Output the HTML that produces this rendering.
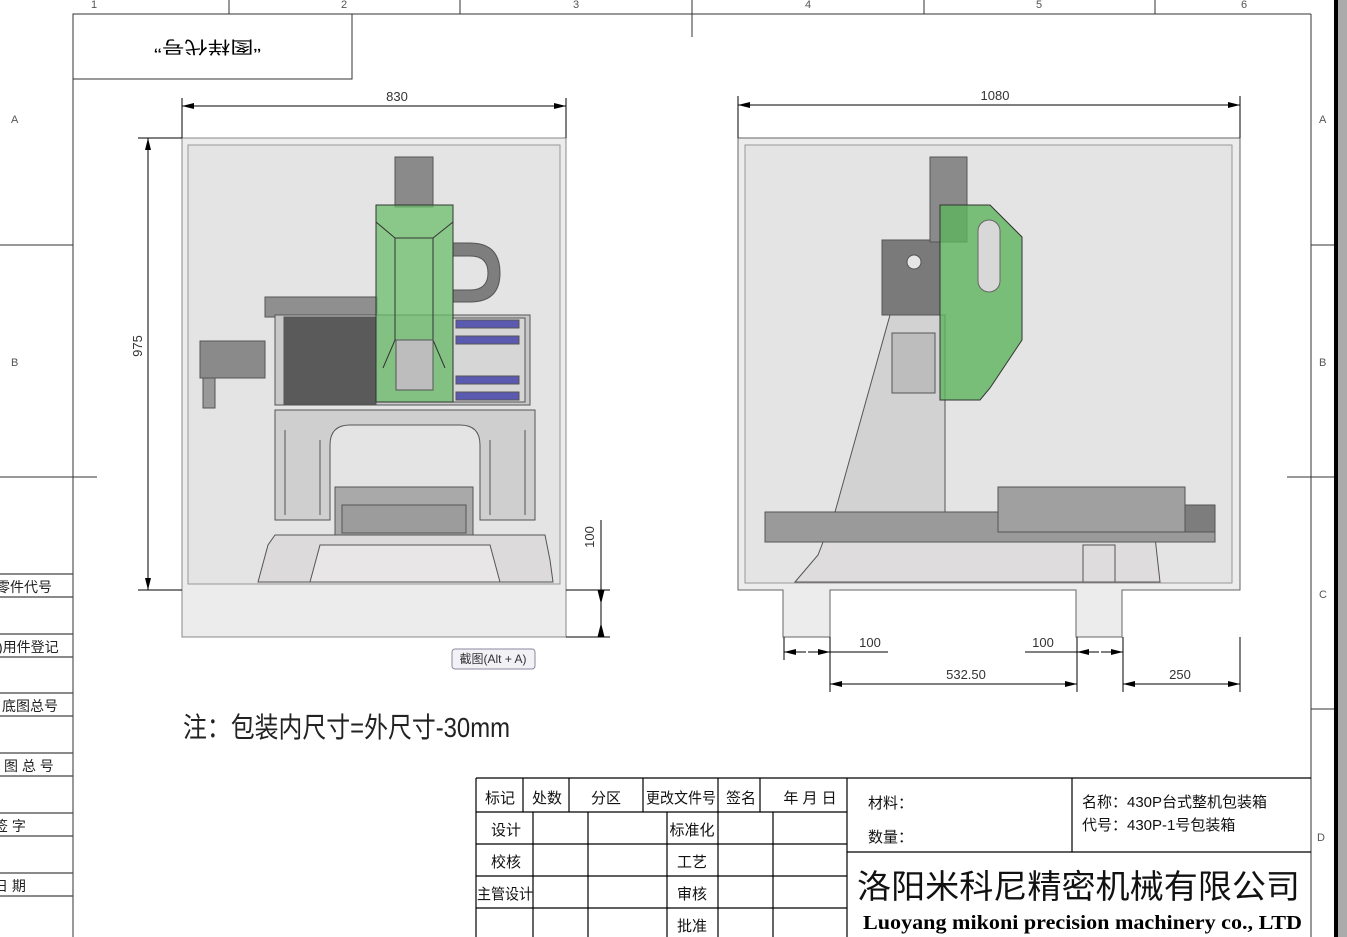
<!DOCTYPE html>
<html><head><meta charset="utf-8"><style>
html,body{margin:0;padding:0;background:#fff}
body{width:1347px;height:937px;overflow:hidden;position:relative;font-family:"Liberation Sans","Noto Sans CJK SC",sans-serif}
svg{position:absolute;left:0;top:0}
text{font-family:"Liberation Sans","Noto Sans CJK SC",sans-serif}
</style></head><body>
<svg width="1347" height="937" viewBox="0 0 1347 937" xmlns="http://www.w3.org/2000/svg">
<defs>
<marker id="ar" markerWidth="12" markerHeight="6" refX="12" refY="3" orient="auto" markerUnits="userSpaceOnUse"><path d="M0,0 L12,3 L0,6z" fill="#000"/></marker>
<marker id="al" markerWidth="12" markerHeight="6" refX="0" refY="3" orient="auto" markerUnits="userSpaceOnUse"><path d="M12,0 L0,3 L12,6z" fill="#000"/></marker>
</defs>
<rect x="1334" y="0" width="4" height="937" fill="#000"/>
<rect x="1338" y="0" width="9" height="937" fill="#ababab"/>
<g stroke="#333" stroke-width="1" fill="none">
<line x1="73" y1="14" x2="1311" y2="14"/>
<line x1="73" y1="14" x2="73" y2="937"/>
<line x1="1311" y1="14" x2="1311" y2="937"/>
<line x1="229" y1="0" x2="229" y2="14"/><line x1="460" y1="0" x2="460" y2="14"/>
<line x1="692" y1="0" x2="692" y2="37"/><line x1="924" y1="0" x2="924" y2="14"/><line x1="1155" y1="0" x2="1155" y2="14"/>
<line x1="0" y1="245" x2="73" y2="245"/><line x1="0" y1="477" x2="97" y2="477"/>
<line x1="1311" y1="245" x2="1334" y2="245"/><line x1="1287" y1="477" x2="1334" y2="477"/><line x1="1311" y1="709" x2="1334" y2="709"/>
<rect x="73" y="14" width="279" height="65"/>
</g>
<g fill="#555" font-size="11">
<text x="91" y="8">1</text><text x="341" y="8">2</text><text x="573" y="8">3</text><text x="805" y="8">4</text><text x="1036" y="8">5</text><text x="1241" y="8">6</text>
<text x="11" y="123">A</text><text x="11" y="366">B</text>
<text x="1319" y="123">A</text><text x="1319" y="366">B</text><text x="1319" y="598">C</text><text x="1317" y="841">D</text>
</g>
<text x="155" y="53" font-size="17" textLength="107" lengthAdjust="spacingAndGlyphs" transform="rotate(180 208 47)" fill="#000">“图样代号”</text>
<g stroke="#444" stroke-width="1.3">
<line x1="0" y1="574" x2="73" y2="574"/><line x1="0" y1="597" x2="73" y2="597"/>
<line x1="0" y1="634" x2="73" y2="634"/><line x1="0" y1="657" x2="73" y2="657"/>
<line x1="0" y1="693" x2="73" y2="693"/><line x1="0" y1="716" x2="73" y2="716"/>
<line x1="0" y1="753" x2="73" y2="753"/><line x1="0" y1="776" x2="73" y2="776"/>
<line x1="0" y1="813" x2="73" y2="813"/><line x1="0" y1="836" x2="73" y2="836"/>
<line x1="0" y1="873" x2="73" y2="873"/><line x1="0" y1="896" x2="73" y2="896"/>
</g>
<g font-size="14" fill="#222">
<text x="-4" y="592">零件代号</text><text x="-2" y="652">)用件登记</text><text x="2" y="711">底图总号</text>
<text x="4" y="771">图  总  号</text><text x="-6" y="831">签      字</text><text x="-6" y="891">日      期</text>
</g>

<rect x="182" y="138" width="384" height="499" fill="#ececec" stroke="#888"/>
<rect x="188" y="145" width="372" height="439" fill="#e4e4e4" stroke="#999"/>
<g stroke="#555" stroke-width="1">
<path d="M258,582 L268,545 L275,535 L545,535 L550,560 L553,582 Z" fill="#dcdada"/>
<path d="M310,582 L320,545 L490,545 L500,582 Z" fill="#e8e6e6"/>
<path d="M275,520 L275,410 L535,410 L535,520 L480,520 L480,445 Q480,425 460,425 L350,425 Q330,425 330,445 L330,520 Z" fill="#cfcfcf"/>
<path d="M285,515 L285,430 M320,515 L320,440 M490,515 L490,440 M525,515 L525,430" fill="none"/>
<rect x="335" y="487" width="138" height="48" fill="#a9a9a9"/>
<rect x="342" y="505" width="124" height="28" fill="#9c9c9c"/>
<rect x="265" y="297" width="112" height="20" fill="#8f8f8f"/>
<rect x="275" y="315" width="255" height="90" fill="#c8c8c8"/>
<rect x="284" y="317" width="92" height="87" fill="#5a5a5a"/>
<rect x="453" y="318" width="72" height="84" fill="#d6d6d6"/>
<rect x="456" y="320" width="63" height="8" fill="#5a5ab0"/>
<rect x="456" y="336" width="63" height="8" fill="#5a5ab0"/>
<rect x="456" y="376" width="63" height="8" fill="#5a5ab0"/>
<rect x="456" y="392" width="63" height="8" fill="#5a5ab0"/>
<rect x="200" y="341" width="65" height="37" fill="#8a8a8a"/>
<rect x="203" y="378" width="12" height="30" fill="#999"/>
<path d="M453,243 L470,243 Q500,243 500,273 Q500,302 470,302 L453,302 L453,290 L470,290 Q488,290 488,273 Q488,256 470,256 L453,256 Z" fill="#7e7e7e"/>
<rect x="395" y="157" width="38" height="50" fill="#8a8a8a"/>
<rect x="376" y="205" width="77" height="197" fill="#6cbf6c" fill-opacity="0.75" stroke="#333"/>
<path d="M376,222 L395,238 L433,238 L453,222 M395,238 L395,340 L383,368 M433,238 L433,340 L445,368" fill="none" stroke="#333"/>
<rect x="396" y="340" width="37" height="50" fill="#bdbdbd"/>
</g>
<g stroke="#000" fill="none">
<line x1="182" y1="98" x2="182" y2="138"/><line x1="566" y1="98" x2="566" y2="138"/>
<line x1="182" y1="106" x2="566" y2="106" marker-start="url(#al)" marker-end="url(#ar)"/>
<line x1="138" y1="138" x2="182" y2="138"/><line x1="138" y1="590" x2="182" y2="590"/>
<line x1="148" y1="138" x2="148" y2="590" marker-start="url(#al)" marker-end="url(#ar)"/>
<line x1="566" y1="590" x2="610" y2="590"/><line x1="566" y1="637" x2="610" y2="637"/>
<line x1="601" y1="520" x2="601" y2="637"/>
<path d="M598,590 L601,602 L604,590Z M598,637 L601,625 L604,637Z" fill="#000"/>
</g>
<text x="397" y="101" font-size="13" text-anchor="middle" fill="#333">830</text>
<text x="142" y="346" font-size="13" text-anchor="middle" fill="#333" transform="rotate(-90 142 346)">975</text>
<text x="594" y="537" font-size="13" text-anchor="middle" fill="#333" transform="rotate(-90 594 537)">100</text>
<rect x="452" y="649" width="83" height="20" rx="3" fill="#f1f1f6" stroke="#8a8aa0"/>
<text x="493" y="663" font-size="12" text-anchor="middle" fill="#333">截图(Alt + A)</text>

<path d="M738,138 L1240,138 L1240,590 L1122,590 L1122,637 L1076,637 L1076,590 L830,590 L830,637 L783,637 L783,590 L738,590 Z" fill="#ececec" stroke="#666"/>
<rect x="745" y="145" width="487" height="438" fill="#e4e4e4" stroke="#999"/>
<g stroke="#555" stroke-width="1">
<path d="M795,582 L818,555 L825,537 L1155,537 L1160,582 Z" fill="#dedcdc"/>
<rect x="765" y="512" width="450" height="30" fill="#9a9a9a"/>
<rect x="998" y="487" width="187" height="45" fill="#a0a0a0"/>
<rect x="1185" y="505" width="30" height="27" fill="#7d7d7d"/>
<path d="M835,512 L890,315 L945,315 L945,512 Z" fill="#d2d2d2"/>
<rect x="892" y="333" width="43" height="60" fill="#bdbdbd"/>
<rect x="882" y="240" width="58" height="75" fill="#7a7a7a"/>
<circle cx="914" cy="262" r="7" fill="#e6e6e6"/>
<rect x="930" y="157" width="37" height="85" fill="#8a8a8a"/>
<path d="M940,205 L990,205 L1022,237 L1022,340 L990,388 L980,400 L950,400 L940,400 Z" fill="#5db45d" fill-opacity="0.8" stroke="#333"/>
<rect x="978" y="220" width="22" height="72" rx="11" fill="#d8d8d8" stroke="#666"/>
<rect x="1083" y="545" width="32" height="37" fill="none"/>
</g>
<g stroke="#000" fill="none">
<line x1="738" y1="96" x2="738" y2="138"/><line x1="1240" y1="96" x2="1240" y2="138"/>
<line x1="738" y1="105" x2="1240" y2="105" marker-start="url(#al)" marker-end="url(#ar)"/>
<line x1="784" y1="637" x2="784" y2="660"/><line x1="830" y1="637" x2="830" y2="692"/>
<line x1="1077" y1="637" x2="1077" y2="692"/><line x1="1123" y1="637" x2="1123" y2="692"/>
<line x1="1240" y1="637" x2="1240" y2="692"/>
<line x1="784" y1="652" x2="806" y2="652" marker-start="url(#al)"/>
<line x1="808" y1="652" x2="830" y2="652" marker-end="url(#ar)"/>
<line x1="830" y1="652" x2="888" y2="652"/>
<line x1="1025" y1="652" x2="1077" y2="652"/>
<line x1="1077" y1="652" x2="1099" y2="652" marker-start="url(#al)"/>
<line x1="1101" y1="652" x2="1123" y2="652" marker-end="url(#ar)"/>
<line x1="830" y1="684" x2="1077" y2="684" marker-start="url(#al)" marker-end="url(#ar)"/>
<line x1="1123" y1="684" x2="1240" y2="684" marker-start="url(#al)" marker-end="url(#ar)"/>
</g>
<g font-size="13" fill="#333" text-anchor="middle">
<text x="995" y="100">1080</text><text x="870" y="647">100</text><text x="1043" y="647">100</text>
<text x="966" y="679">532.50</text><text x="1180" y="679">250</text>
</g>
<text x="183" y="737" font-size="28" fill="#222" textLength="327" lengthAdjust="spacingAndGlyphs">注：包装内尺寸=外尺寸-30mm</text>

<g stroke="#000" stroke-width="1.2" fill="none">
<line x1="476" y1="778" x2="1311" y2="778"/>
<line x1="476" y1="778" x2="476" y2="937"/>
<line x1="476" y1="812" x2="847" y2="812"/>
<line x1="476" y1="844" x2="847" y2="844"/>
<line x1="476" y1="876" x2="847" y2="876"/>
<line x1="476" y1="908" x2="847" y2="908"/>
<line x1="523" y1="778" x2="523" y2="812"/><line x1="569" y1="778" x2="569" y2="812"/>
<line x1="643" y1="778" x2="643" y2="812"/><line x1="718" y1="778" x2="718" y2="937"/>
<line x1="760" y1="778" x2="760" y2="812"/>
<line x1="533" y1="812" x2="533" y2="937"/><line x1="588" y1="812" x2="588" y2="937"/>
<line x1="667" y1="812" x2="667" y2="937"/><line x1="773" y1="812" x2="773" y2="937"/>
<line x1="847" y1="778" x2="847" y2="937"/>
<line x1="1072" y1="778" x2="1072" y2="852"/>
<line x1="847" y1="852" x2="1311" y2="852"/>
</g>
<g font-size="15" fill="#111" text-anchor="middle">
<text x="500" y="803">标记</text><text x="547" y="803">处数</text><text x="606" y="803">分区</text>
<text x="681" y="803" textLength="70" lengthAdjust="spacingAndGlyphs">更改文件号</text><text x="741" y="803">签名</text><text x="810" y="803">年  月  日</text>
<text x="506" y="835">设计</text><text x="506" y="867">校核</text><text x="505" y="899" textLength="56" lengthAdjust="spacingAndGlyphs">主管设计</text>
<text x="692" y="835">标准化</text><text x="692" y="867">工艺</text><text x="692" y="899">审核</text><text x="692" y="931">批准</text>
</g>
<g font-size="15" fill="#111">
<text x="868" y="808">材料：</text><text x="868" y="842">数量：</text>
<text x="1082" y="807">名称：430P台式整机包装箱</text><text x="1082" y="830">代号：430P-1号包装箱</text>
</g>
<text x="857" y="898" font-size="33" fill="#111" textLength="443" lengthAdjust="spacingAndGlyphs">洛阳米科尼精密机械有限公司</text>
<text x="863" y="929" font-size="20" font-weight="bold" fill="#000" textLength="439" lengthAdjust="spacingAndGlyphs" style="font-family:'Liberation Serif',serif">Luoyang mikoni precision machinery co., LTD</text>
</svg>
</body></html>
